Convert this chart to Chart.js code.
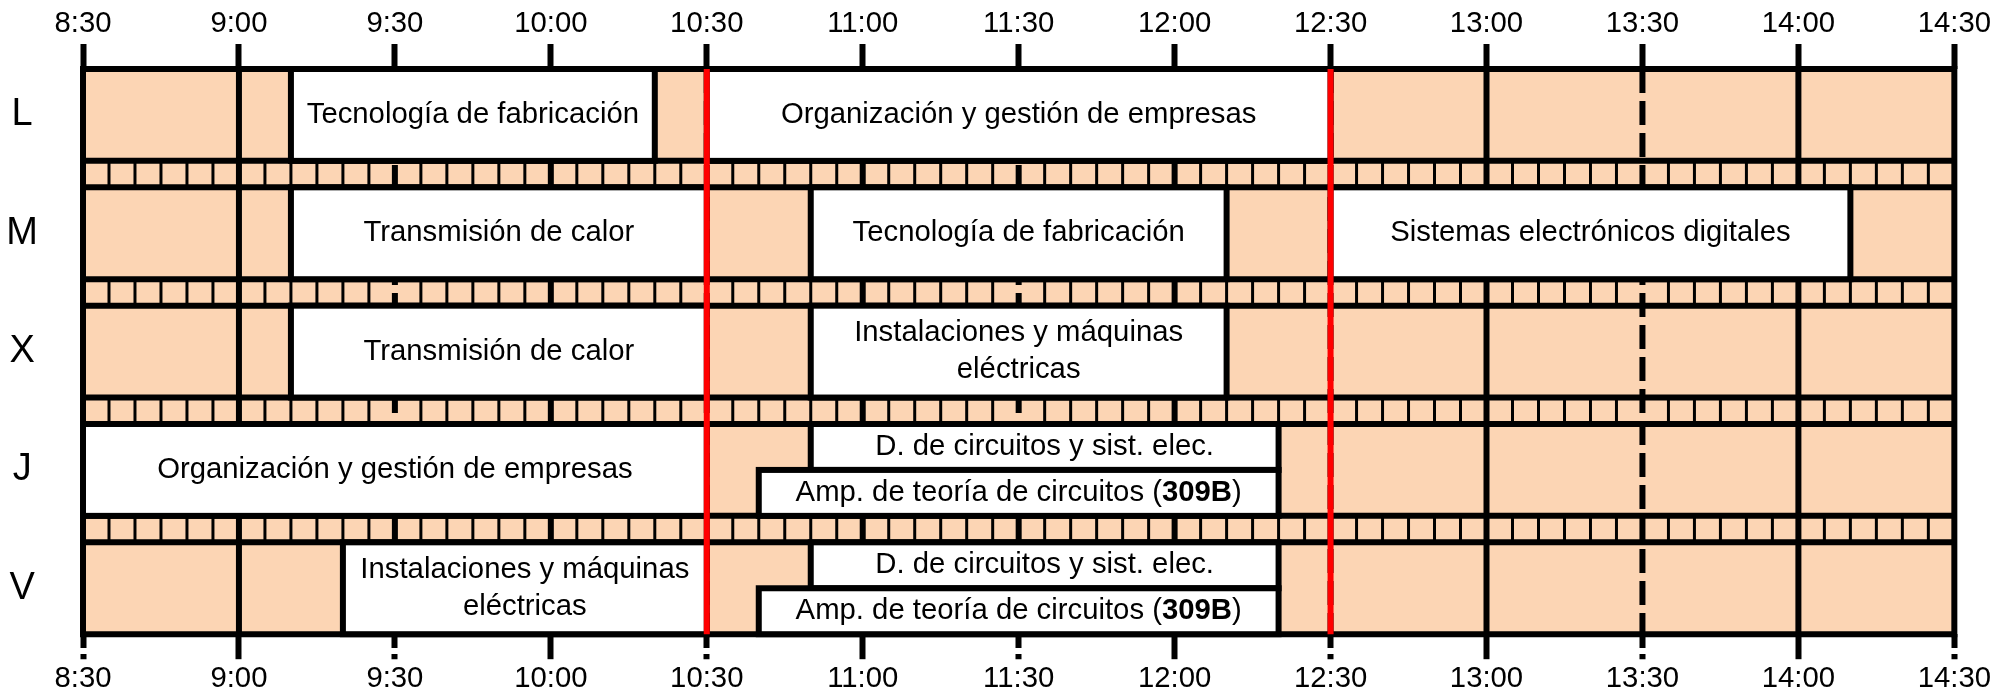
<!DOCTYPE html>
<html lang="es">
<head>
<meta charset="UTF-8">
<title>Horario semanal</title>
<script src="https://cdn.jsdelivr.net/npm/chart.js"></script>
<style>
  html, body { margin: 0; padding: 0; background: #fff; }
  #wrap { width: 1996px; height: 694px; }
</style>
</head>
<body>
<div id="wrap"><canvas id="horario"></canvas></div>
<script>
// dias y horas
const days = ['L', 'M', 'X', 'J', 'V'];
const timeLabels = ['8:30', '9:00', '9:30', '10:00', '10:30', '11:00', '11:30',
                    '12:00', '12:30', '13:00', '13:30', '14:00', '14:30'];
const breakTimes = ['10:30', '12:30'];

// clases (dia, inicio, fin, parte de la fila, texto)
const classDay   = ['L', 'L', 'M', 'M', 'M', 'X', 'X', 'J', 'J', 'J', 'V', 'V', 'V'];
const classStart = ['9:10', '10:30', '9:10', '10:50', '12:30', '9:10', '10:50', '8:30', '10:50', '10:40', '9:20', '10:50', '10:40'];
const classEnd   = ['10:20', '12:30', '10:30', '12:10', '14:10', '10:30', '12:10', '10:30', '12:20', '12:20', '10:30', '12:20', '12:20'];
const classPart  = ['full', 'full', 'full', 'full', 'full', 'full', 'full', 'full', 'top', 'bottom', 'full', 'top', 'bottom'];
const className  = [
  'Tecnología de fabricación',
  'Organización y gestión de empresas',
  'Transmisión de calor',
  'Tecnología de fabricación',
  'Sistemas electrónicos digitales',
  'Transmisión de calor',
  'Instalaciones y máquinas\neléctricas',
  'Organización y gestión de empresas',
  'D. de circuitos y sist. elec.',
  'Amp. de teoría de circuitos (**309B**)',
  'Instalaciones y máquinas\neléctricas',
  'D. de circuitos y sist. elec.',
  'Amp. de teoría de circuitos (**309B**)'
];

const DAY_START = 8 * 60 + 30;
const GAP = 0.288;               // franja entre dias (en alturas de fila)
const Y_MAX = days.length + (days.length - 1) * GAP;

const ORANGE = '#FCD5B4';
const FONT_FAMILY = '"Liberation Sans", Arial, sans-serif';

function toMin(t) {
  const [h, m] = t.split(':').map(Number);
  return h * 60 + m - DAY_START;
}
function rowTop(i) { return i * (1 + GAP); }

function drawRich(ctx, text, cx, cy) {
  const parts = text.split('**');
  const widths = parts.map((p, i) => {
    ctx.font = (i % 2 ? 'bold ' : '') + '29.3px ' + FONT_FAMILY;
    return ctx.measureText(p).width;
  });
  let x = cx - widths.reduce((a, b) => a + b, 0) / 2;
  parts.forEach((p, i) => {
    ctx.font = (i % 2 ? 'bold ' : '') + '29.3px ' + FONT_FAMILY;
    ctx.fillText(p, x, cy);
    x += widths[i];
  });
}

const timetablePlugin = {
  id: 'timetable',
  beforeDatasetsDraw(chart) {
    const ctx = chart.ctx;
    const xs = chart.scales.x, ys = chart.scales.y;
    const area = chart.chartArea;
    const px = m => xs.getPixelForValue(m);
    const py = v => ys.getPixelForValue(v);
    const total = toMin('14:30');

    ctx.save();
    // fondo naranja
    ctx.fillStyle = ORANGE;
    ctx.fillRect(area.left, area.top, area.right - area.left, area.bottom - area.top);

    // separadores de 5 minutos en las franjas
    ctx.strokeStyle = '#000';
    ctx.lineWidth = 3;
    for (let d = 0; d < days.length - 1; d++) {
      const y0 = py(rowTop(d) + 1), y1 = py(rowTop(d + 1));
      for (let m = 5; m < total; m += 5) {
        if (m % 30 === 0) continue;
        ctx.beginPath();
        ctx.moveTo(px(m), y0);
        ctx.lineTo(px(m), y1);
        ctx.stroke();
      }
    }

    // lineas de horas (enteras continuas, medias discontinuas)
    ctx.lineWidth = 6;
    for (let m = 30; m < total; m += 30) {
      const fullHour = (m / 30) % 2 === 1;
      ctx.setLineDash(fullHour ? [] : [24, 8]);
      ctx.beginPath();
      ctx.moveTo(px(m), area.top);
      ctx.lineTo(px(m), area.bottom);
      ctx.stroke();
    }
    ctx.setLineDash([]);

    // lineas horizontales de cada dia
    days.forEach((d, i) => {
      [rowTop(i), rowTop(i) + 1].forEach(v => {
        ctx.beginPath();
        ctx.moveTo(area.left, py(v));
        ctx.lineTo(area.right, py(v));
        ctx.stroke();
      });
    });

    // clases
    classDay.forEach((d, i) => {
      const r = days.indexOf(d);
      let v0 = rowTop(r), v1 = rowTop(r) + 1;
      if (classPart[i] === 'top') v1 = rowTop(r) + 0.5;
      if (classPart[i] === 'bottom') v0 = rowTop(r) + 0.5;
      const x0 = px(toMin(classStart[i])), x1 = px(toMin(classEnd[i]));
      const y0 = py(v0), y1 = py(v1);
      ctx.fillStyle = '#fff';
      ctx.fillRect(x0, y0, x1 - x0, y1 - y0);
      ctx.strokeStyle = '#000';
      ctx.lineWidth = 6;
      ctx.strokeRect(x0, y0, x1 - x0, y1 - y0);
    });

    // bordes izquierdo y derecho
    [0, total].forEach(m => {
      ctx.beginPath();
      ctx.moveTo(px(m), area.top - 3);
      ctx.lineTo(px(m), area.bottom + 3);
      ctx.stroke();
    });

    // descansos en rojo
    ctx.strokeStyle = '#FF0000';
    breakTimes.forEach(t => {
      ctx.beginPath();
      ctx.moveTo(px(toMin(t)), area.top);
      ctx.lineTo(px(toMin(t)), area.bottom);
      ctx.stroke();
    });

    // textos
    ctx.fillStyle = '#000';
    ctx.textAlign = 'left';
    ctx.textBaseline = 'middle';
    classDay.forEach((d, i) => {
      const r = days.indexOf(d);
      let v0 = rowTop(r), v1 = rowTop(r) + 1;
      if (classPart[i] === 'top') v1 = rowTop(r) + 0.5;
      if (classPart[i] === 'bottom') v0 = rowTop(r) + 0.5;
      const cx = (px(toMin(classStart[i])) + px(toMin(classEnd[i]))) / 2;
      const cy = (py(v0) + py(v1)) / 2;
      const lines = className[i].split('\n');
      lines.forEach((ln, k) => {
        drawRich(ctx, ln, cx, cy + (k - (lines.length - 1) / 2) * 37);
      });
    });
    ctx.restore();
  }
};

const timeAxis = (position, height, padding, dashed) => ({
  type: 'linear',
  position: position,
  min: 0,
  max: toMin('14:30'),
  afterFit: s => { s.height = height; },
  ticks: {
    stepSize: 30,
    autoSkip: false,
    maxRotation: 0,
    padding: padding,
    color: '#000',
    font: { family: FONT_FAMILY, size: 29.3, lineHeight: 1 },
    callback: v => timeLabels[v / 30]
  },
  grid: {
    drawOnChartArea: false,
    drawTicks: true,
    tickLength: 25,
    tickWidth: 6,
    tickColor: '#000',
    tickBorderDash: ctx => (dashed && ctx.tick && (ctx.tick.value / 30) % 2 === 0) ? [14, 6] : []
  },
  border: { display: false }
});

new Chart(document.getElementById('horario'), {
  type: 'scatter',
  data: { datasets: [] },
  options: {
    responsive: true,
    maintainAspectRatio: false,
    animation: false,
    layout: { padding: { left: 0, right: 41, top: 0, bottom: 0 } },
    plugins: { legend: { display: false }, tooltip: { enabled: false } },
    scales: {
      x: timeAxis('bottom', 57, 5, true),
      x2: timeAxis('top', 69, 5, false),
      y: {
        type: 'linear',
        position: 'left',
        min: 0,
        max: Y_MAX,
        reverse: true,
        afterFit: s => { s.width = 83; },
        afterBuildTicks: s => { s.ticks = days.map((d, i) => ({ value: rowTop(i) + 0.5 })); },
        ticks: {
          autoSkip: false,
          padding: 37,
          crossAlign: 'center',
          color: '#000',
          font: { family: FONT_FAMILY, size: 38 },
          callback: (v, i) => days[i]
        },
        grid: { display: false },
        border: { display: false }
      }
    }
  },
  plugins: [timetablePlugin]
});
</script>
</body>
</html>
